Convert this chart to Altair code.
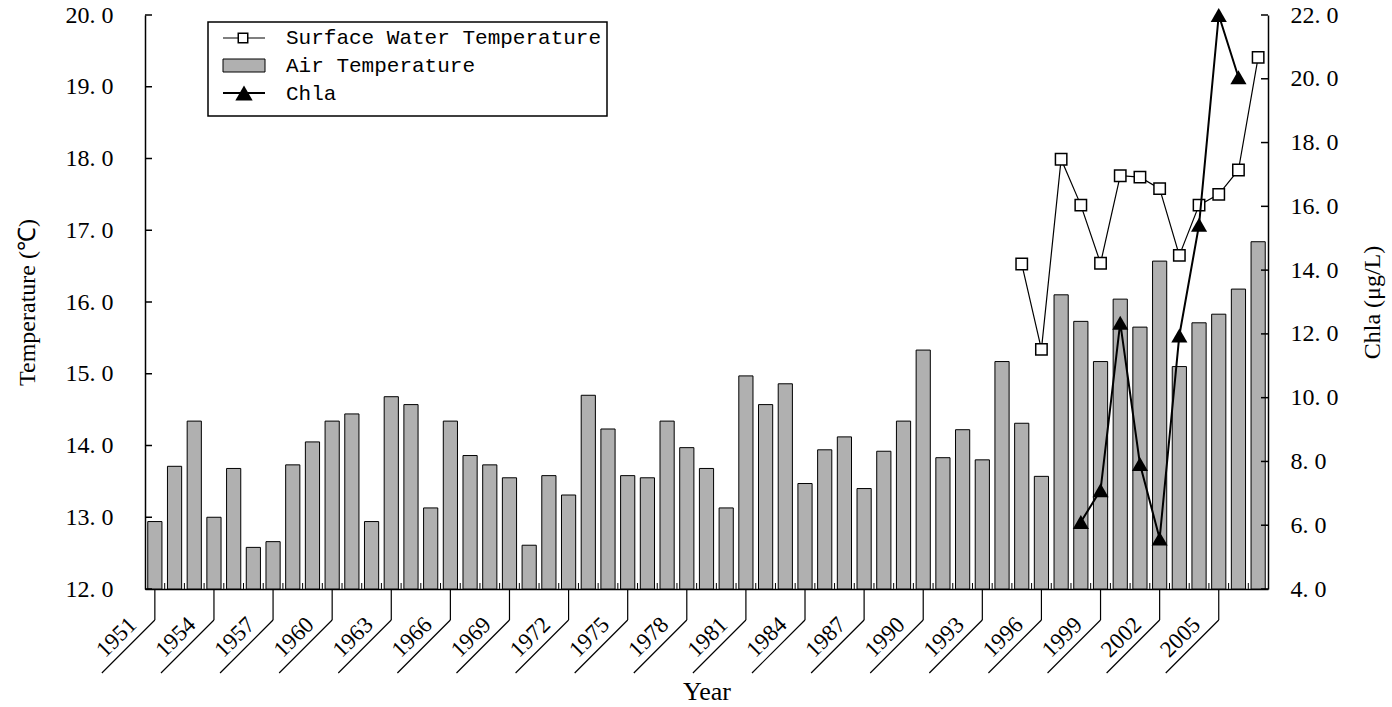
import altair as alt
import pandas as pd

# ---- data ----
YEARS = list(range(1951, 2008))
AIR_TEMP = [
    12.94, 13.71, 14.34, 13.00, 13.68, 12.58, 12.66, 13.73, 14.05, 14.34,
    14.44, 12.94, 14.68, 14.57, 13.13, 14.34, 13.86, 13.73, 13.55, 12.61,
    13.58, 13.31, 14.70, 14.23, 13.58, 13.55, 14.34, 13.97, 13.68, 13.13,
    14.97, 14.57, 14.86, 13.47, 13.94, 14.12, 13.40, 13.92, 14.34, 15.33,
    13.83, 14.22, 13.80, 15.17, 14.31, 13.57, 16.10, 15.73, 15.17, 16.04,
    15.65, 16.57, 15.10, 15.71, 15.83, 16.18, 16.84,
]
WATER_YEARS = list(range(1995, 2008))
WATER_TEMP = [16.53, 15.34, 17.99, 17.35, 16.54, 17.76, 17.74, 17.58, 16.65,
              17.35, 17.50, 17.84, 19.41]
CHLA_YEARS = list(range(1998, 2007))
CHLA = [6.10, 7.10, 12.35, 7.92, 5.58, 11.95, 15.42, 22.00, 20.05]
LABEL_YEARS = list(range(1951, 2006, 3))
TEMP_TICKS = [12, 13, 14, 15, 16, 17, 18, 19, 20]
CHLA_TICKS = [4, 6, 8, 10, 12, 14, 16, 18, 20, 22]
LEGEND_LABELS = ["Surface Water Temperature", "Air Temperature", "Chla"]

W, H = 1123, 574
SERIF = "Liberation Serif"
MONO = "Liberation Mono"
BAR_GRAY = "#b0b0b0"
NUM_EXPR = "replace(format(datum.value, '.1f'), '.', '. ')"

air_df = pd.DataFrame({"year": YEARS, "air": AIR_TEMP})
water_df = pd.DataFrame({"year": WATER_YEARS, "water": WATER_TEMP})
chla_df = pd.DataFrame({"year": CHLA_YEARS, "chla": CHLA})
label_df = pd.DataFrame({"year": LABEL_YEARS, "label": [str(y) for y in LABEL_YEARS]})

xs = alt.Scale(domain=[1950.5, 2007.5], nice=False, zero=False)
temp_scale = alt.Scale(domain=[12, 20], nice=False, zero=False)
chla_scale = alt.Scale(domain=[4, 22], nice=False, zero=False)

# one axis definition per scale, reused by every layer on that scale
x_axis = alt.Axis(labels=False, ticks=False, grid=False, title="Year",
                  titleFont=SERIF, titleFontSize=26, titleFontWeight="normal",
                  titleColor="black", titlePadding=89,
                  domainColor="black", domainWidth=1.5)
temp_axis = alt.Axis(values=TEMP_TICKS, labelExpr=NUM_EXPR, ticks=False, grid=False,
                     labelFont=SERIF, labelFontSize=24, labelColor="black",
                     labelPadding=32, domainColor="black", domainWidth=1.5,
                     title="Temperature (℃)", titleFont=SERIF, titleFontSize=24,
                     titleFontWeight="normal", titleColor="black", titlePadding=26)
chla_axis = alt.Axis(orient="right", values=CHLA_TICKS, labelExpr=NUM_EXPR,
                     ticks=False, grid=False, labelFont=SERIF, labelFontSize=24,
                     labelColor="black", labelPadding=22, domainColor="black",
                     domainWidth=1.5, title="Chla (μg/L)", titleAngle=270,
                     titleFont=SERIF, titleFontSize=24, titleFontWeight="normal",
                     titleColor="black", titlePadding=46)


def X(field):
    return alt.X(field, scale=xs, axis=x_axis, title="Year")


# ---- air temperature bars ----
bars = alt.Chart(air_df).transform_calculate(
    x0="datum.year - 0.36", x1="datum.year + 0.36"
).mark_bar(color=BAR_GRAY, stroke="black", strokeWidth=1).encode(
    x=X("x0:Q"),
    x2="x1:Q",
    y=alt.Y("air:Q", scale=temp_scale, axis=temp_axis, title="Temperature (℃)"),
    y2=alt.datum(12),
)

# surface water temperature line with open squares
water = alt.Chart(water_df).mark_line(
    color="black", strokeWidth=1.2,
    point=alt.OverlayMarkDef(shape="square", filled=True, fill="white",
                             stroke="black", strokeWidth=1.5, size=130),
).encode(
    x=X("year:Q"),
    y=alt.Y("water:Q", scale=temp_scale, axis=temp_axis, title="Temperature (℃)"),
)

# inward ticks on the left axis
left_ticks = alt.Chart(pd.DataFrame({"v": TEMP_TICKS})).mark_rule(
    color="black", strokeWidth=1.5
).encode(
    y=alt.Y("v:Q", scale=temp_scale, axis=temp_axis, title="Temperature (℃)"),
    x=alt.value(0), x2=alt.value(7),
)

# small inward ticks on the category boundaries
bounds = alt.Chart(air_df).transform_filter("datum.year < 2007").transform_calculate(
    b="datum.year + 0.5"
).mark_rule(color="black", strokeWidth=1).encode(
    x=X("b:Q"),
    y=alt.value(H), y2=alt.value(H - 6),
)

# labelled ticks with leader lines and slanted year labels
lead_v = alt.Chart(label_df).mark_rule(color="black", strokeWidth=1.2).encode(
    x=X("year:Q"),
    y=alt.value(H), y2=alt.value(H + 31),
)
lead_d = alt.Chart(label_df).mark_rule(color="black", strokeWidth=1.2, x2Offset=-53).encode(
    x=X("year:Q"),
    x2=alt.X2("year:Q"),
    y=alt.value(H + 31), y2=alt.value(H + 84),
)
year_text = alt.Chart(label_df).mark_text(
    angle=315, align="right", baseline="alphabetic", xOffset=-17,
    font=SERIF, fontSize=23, color="black",
).encode(
    x=X("year:Q"),
    y=alt.value(H + 37),
    text="label:N",
)

temp_layer = alt.layer(bars, water, left_ticks, bounds, lead_v, lead_d, year_text)

# ---- chlorophyll-a on the right axis ----
chla = alt.Chart(chla_df).mark_line(
    color="black", strokeWidth=2,
    point=alt.OverlayMarkDef(shape="triangle-up", filled=True, fill="black", size=260),
).encode(
    x=X("year:Q"),
    y=alt.Y("chla:Q", scale=chla_scale, axis=chla_axis, title="Chla (μg/L)"),
)
right_ticks = alt.Chart(pd.DataFrame({"v": CHLA_TICKS})).mark_rule(
    color="black", strokeWidth=1.5
).encode(
    y=alt.Y("v:Q", scale=chla_scale, axis=chla_axis, title="Chla (μg/L)"),
    x=alt.value(W - 7), x2=alt.value(W),
)
chla_layer = alt.layer(chla, right_ticks)

# ---- legend box ----
one = pd.DataFrame({"k": [0]})
leg_box = alt.Chart(one).mark_rect(fill="white", stroke="black", strokeWidth=1.5).encode(
    x=alt.value(63), x2=alt.value(462), y=alt.value(7), y2=alt.value(101))
leg_line1 = alt.Chart(one).mark_rule(color="black", strokeWidth=1.2).encode(
    x=alt.value(78), x2=alt.value(120), y=alt.value(23))
leg_sq = alt.Chart(one).mark_point(shape="square", filled=True, fill="white",
                                   stroke="black", strokeWidth=1.5, size=90, opacity=1).encode(
    x=alt.value(98), y=alt.value(23))
leg_bar = alt.Chart(one).mark_rect(fill=BAR_GRAY, stroke="black", strokeWidth=1).encode(
    x=alt.value(78), x2=alt.value(120), y=alt.value(44), y2=alt.value(57))
leg_line3 = alt.Chart(one).mark_rule(color="black", strokeWidth=2).encode(
    x=alt.value(78), x2=alt.value(120), y=alt.value(78))
leg_tri = alt.Chart(one).mark_point(shape="triangle-up", filled=True, fill="black",
                                    size=300, opacity=1).encode(
    x=alt.value(99), y=alt.value(78))


def leg_text(label, y):
    return alt.Chart(pd.DataFrame({"label": [label]})).mark_text(
        align="left", baseline="middle", font=MONO, fontSize=21, color="black"
    ).encode(x=alt.value(141), y=alt.value(y), text="label:N")


legend = alt.layer(
    leg_box, leg_line1, leg_sq, leg_bar, leg_line3, leg_tri,
    leg_text(LEGEND_LABELS[0], 23), leg_text(LEGEND_LABELS[1], 51), leg_text(LEGEND_LABELS[2], 79),
)

chart = alt.layer(temp_layer, chla_layer, legend).resolve_scale(
    y="independent"
).properties(
    width=W, height=H,
    autosize=alt.AutoSizeParams(type="none"),
    padding={"left": 145, "top": 15, "right": 124, "bottom": 118},
    background="white",
).configure_view(stroke=None)

chart.save("out.html", embed_options={"renderer": "svg", "actions": False})
